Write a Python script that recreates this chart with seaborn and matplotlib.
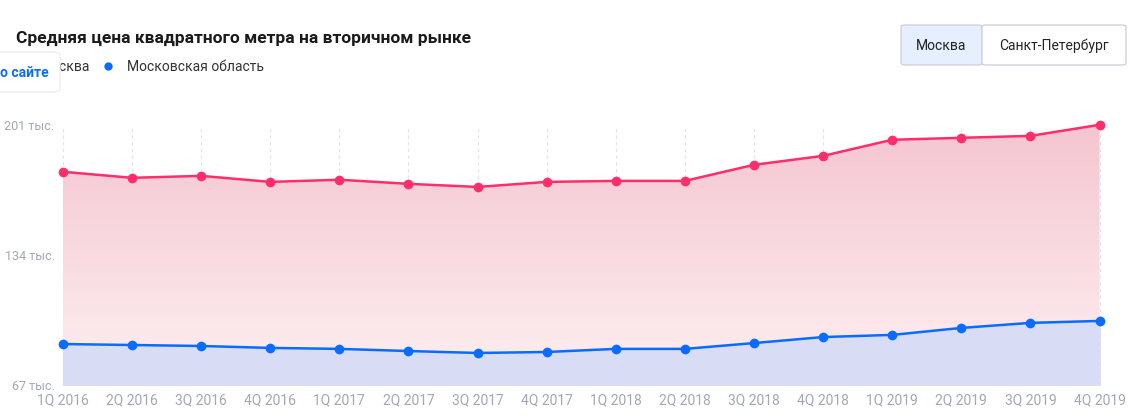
import numpy as np
import matplotlib
matplotlib.use("Agg")
import matplotlib.pyplot as plt
import seaborn as sns
import pandas as pd
from matplotlib.patches import FancyBboxPatch
from matplotlib.lines import Line2D
from matplotlib.colors import LinearSegmentedColormap

quarters = ["1Q 2016","2Q 2016","3Q 2016","4Q 2016","1Q 2017","2Q 2017","3Q 2017","4Q 2017",
            "1Q 2018","2Q 2018","3Q 2018","4Q 2018","1Q 2019","2Q 2019","3Q 2019","4Q 2019"]
moscow = [176.8,173.7,174.7,171.6,172.7,170.6,169.0,171.6,172.1,172.1,180.4,185.0,193.3,194.3,195.3,201.0]
mo_region = [88.1,87.6,87.1,86.1,85.6,84.5,83.5,84.0,85.6,85.6,88.6,91.7,92.8,96.4,99.0,100.0]
yticks = [67, 134, 201]
ytick_labels = ["67 тыс.", "134 тыс.", "201 тыс."]

plt.rcParams["font.family"] = "Roboto"
fig = plt.figure(figsize=(11.43, 4.16), dpi=100)
ax = fig.add_axes([0.055, 0.0745, 0.907, 0.6255])
x = np.arange(len(quarters))
df = pd.DataFrame({"x": np.concatenate([x, x]), "v": moscow + mo_region,
                   "s": ["Москва"] * 16 + ["Московская область"] * 16})

poly = ax.fill_between(x, moscow, 67, color="none")
grad = np.linspace(0, 1, 256).reshape(-1, 1)
cm = LinearSegmentedColormap.from_list("g", ["#fdf0f2", "#f5c5d0"])
im = ax.imshow(grad, cmap=cm, aspect="auto", extent=[0, 15, 67, 201], origin="lower", zorder=1)
im.set_clip_path(poly.get_paths()[0], transform=ax.transData)
ax.fill_between(x, mo_region, 67, color="#d8dcf5", zorder=2)

for xi in x:
    ax.axvline(xi, color="#e3e3ea", lw=0.8, ls=(0, (3, 3)), zorder=0)
sns.lineplot(data=df, x="x", y="v", hue="s", palette=["#ff2e6b", "#0a6cff"], marker="o",
             markersize=7, markeredgewidth=0, lw=1.8, ax=ax, legend=False, zorder=3)
for ln in ax.lines:
    ln.set_clip_on(False)
ax.set_xlim(0, 15)
ax.set_ylim(67, 201)
ax.set_xticks(x)
ax.set_xticklabels(quarters, color="#a3a6b4", fontsize=10)
ax.set_yticks(yticks)
ax.set_yticklabels(ytick_labels, color="#a3a6b4", fontsize=9)
ax.tick_params(length=0, pad=6)
ax.set_xlabel(""); ax.set_ylabel("")
for s in ax.spines.values():
    s.set_visible(False)
ax.axhline(67, color="#dfe1ea", lw=1, zorder=2)

fig.text(16/1143, 1 - 38/416, "Средняя цена квадратного метра на вторичном рынке",
         fontsize=12.5, fontweight="bold", color="#1a1a1a", va="center")
fig.text(40/1143, 1 - 67/416, "Москва", fontsize=10, color="#333", va="center", zorder=1)
fig.add_artist(Line2D([108/1143], [1 - 66/416], marker="o", markersize=6, color="#0a6cff",
                      markeredgewidth=0, transform=fig.transFigure))
fig.text(127/1143, 1 - 67/416, "Московская область", fontsize=10, color="#333", va="center")
fig.patches.append(FancyBboxPatch((-10/1143, 1 - 92/416), 70/1143, 40/416,
                                  boxstyle="round,pad=0,rounding_size=0.008",
                                  transform=fig.transFigure, fc="white", ec="#eeeeee", lw=1, zorder=5))
fig.text(0, 1 - 73/416, "о сайте", fontsize=10, color="#0a6cff", fontweight="bold", va="center", zorder=6)
fig.patches.append(FancyBboxPatch((901/1143, 1 - 65/416), 81/1143, 40/416,
                                  boxstyle="round,pad=0,rounding_size=0.004",
                                  transform=fig.transFigure, fc="#e6efff", ec="#cfd3dc", lw=1))
fig.patches.append(FancyBboxPatch((982/1143, 1 - 65/416), 144/1143, 40/416,
                                  boxstyle="round,pad=0,rounding_size=0.004",
                                  transform=fig.transFigure, fc="white", ec="#cfd3dc", lw=1))
fig.text(941/1143, 1 - 46/416, "Москва", fontsize=10, color="#222", ha="center", va="center")
fig.text(1054/1143, 1 - 46/416, "Санкт-Петербург", fontsize=10, color="#222", ha="center", va="center")
fig.savefig("out.png", dpi=100)
